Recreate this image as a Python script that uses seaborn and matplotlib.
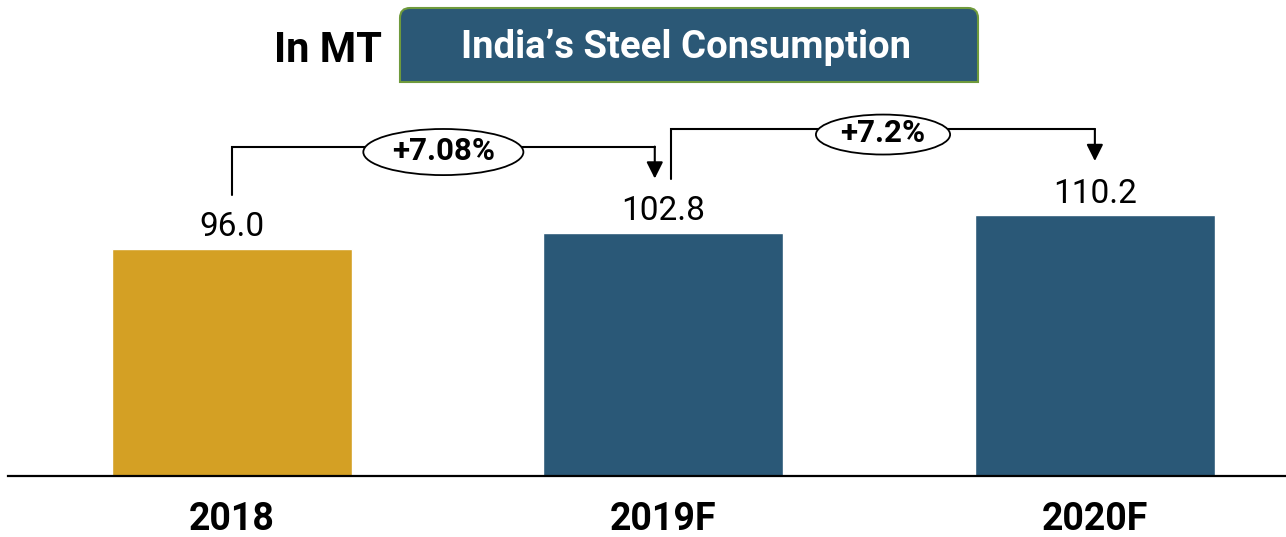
import matplotlib
matplotlib.use("Agg")
import matplotlib.pyplot as plt
import seaborn as sns
import pandas as pd
from matplotlib.patches import Ellipse, PathPatch
from matplotlib.path import Path

# dados
anos = ["2018", "2019F", "2020F"]
consumo = [96.0, 102.8, 110.2]
crescimento = ["+7.08%", "+7.2%"]
cores = ["#D4A024", "#2A5877", "#2A5877"]

titulo = "India\u2019s Steel Consumption"
unidade = "In MT"

sns.set_style("white")
plt.rcParams['font.family'] = ['Roboto', 'DejaVu Sans']
plt.rcParams['text.color'] = 'black'
plt.rcParams['xtick.color'] = 'black'

W, H = 1286, 537
fig = plt.figure(figsize=(W / 100, H / 100), dpi=100)
ax = fig.add_axes([8 / W, 61 / H, 1 - 8 / W, 476 / H])

df = pd.DataFrame({"ano": anos, "consumo": consumo})
sns.barplot(data=df, x="ano", y="consumo", hue="ano", palette=cores,
            legend=False, width=0.556, saturation=1, ax=ax)

for cont in ax.containers:
    ax.bar_label(cont, fmt="%.1f", padding=4, fontsize=24, color="black")

ax.set_xlim(-0.519, 2.443)
ax.set_ylim(0, 201.3)
ax.set_xlabel("")
ax.set_ylabel("")
ax.set_yticks([])
ax.tick_params(axis="x", length=0, pad=18, labelsize=27, labelcolor="black")
for lb in ax.get_xticklabels():
    lb.set_fontweight("bold")
for s in ["top", "left", "right"]:
    ax.spines[s].set_visible(False)
ax.spines["bottom"].set_linewidth(1.6)
ax.spines["bottom"].set_color("black")

# setas de crescimento
desloc_ini = [0, 0.018]
desloc_fim = [-0.02, 0]
larg_elipse = [0.371, 0.311]
alt_elipse = [19.5, 16.9]
for i, txt in enumerate(crescimento):
    v0, v1 = consumo[i], consumo[i + 1]
    x0 = i + desloc_ini[i]
    x1 = i + 1 + desloc_fim[i]
    topo = max(v0, v1) + 36.5
    ax.plot([x0, x0, x1], [v0 + 23, topo, topo], color="black", lw=1.5,
            solid_joinstyle="miter", zorder=3)
    ax.annotate("", xy=(x1, v1 + 23), xytext=(x1, topo),
                arrowprops=dict(arrowstyle="-|>,head_length=0.5,head_width=0.25",
                                color="black", lw=1.5, mutation_scale=20,
                                shrinkA=0, shrinkB=0), zorder=3)
    xc = (x0 + x1) / 2
    ax.add_patch(Ellipse((xc, topo - 2.3), larg_elipse[i], alt_elipse[i],
                         facecolor="white", edgecolor="black", lw=1.3, zorder=4))
    ax.text(xc, topo - 1.8, txt, ha="center", va="center", fontsize=22.5,
            fontweight="bold", zorder=5)

# caixa do título (cantos de cima arredondados)
x0, x1 = 400 / W, 978 / W
yb, yt = 1 - 82 / H, 1 - 8 / H
rx, ry = 10 / W, 10 / H
verts = [(x0, yb), (x0, yt - ry), (x0, yt), (x0 + rx, yt), (x1 - rx, yt),
         (x1, yt), (x1, yt - ry), (x1, yb), (x0, yb)]
codes = [Path.MOVETO, Path.LINETO, Path.CURVE3, Path.CURVE3, Path.LINETO,
         Path.CURVE3, Path.CURVE3, Path.LINETO, Path.CLOSEPOLY]
fig.add_artist(PathPatch(Path(verts, codes), facecolor="#2B5876",
                         edgecolor="#6F9A3C", lw=1.5, transform=fig.transFigure))
fig.text((x0 + x1) / 2 - 3 / W, 1 - 47 / H, titulo, ha="center", va="center",
         color="white", fontsize=27.5, fontweight="bold")
fig.text(328 / W, 1 - 51 / H, unidade, ha="center", va="center",
         fontsize=30, fontweight="bold")

plt.savefig("out.png", dpi=100)
